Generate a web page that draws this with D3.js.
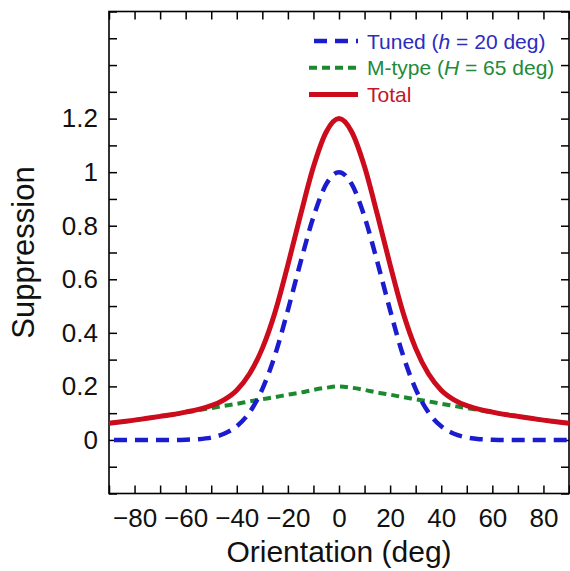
<!DOCTYPE html>
<html>
<head>
<meta charset="utf-8">
<script src="https://cdn.jsdelivr.net/npm/d3@7"></script>
<style>
  body { margin: 0; background: #fff; }
  svg { display: block; font-family: "Liberation Sans", Arial, Helvetica, sans-serif; }
</style>
</head>
<body>
<svg></svg>
<script>
// orientation in degrees
let angles = [-90, -85, -80, -75, -70, -65, -60, -55, -50, -45, -40, -35, -30, -25, -20, -15, -10, -5, 0,
              5, 10, 15, 20, 25, 30, 35, 40, 45, 50, 55, 60, 65, 70, 75, 80, 85, 90]

// tuned suppression (h = 20 deg)
let tuned = [0, 0, 0, 0, 0, 0, 0.001, 0.003, 0.009, 0.023, 0.051, 0.103, 0.190, 0.318, 0.485, 0.665, 0.833, 0.955, 1.0,
             0.955, 0.833, 0.665, 0.485, 0.318, 0.190, 0.103, 0.051, 0.023, 0.009, 0.003, 0.001, 0, 0, 0, 0, 0, 0]

// M-type suppression (H = 65 deg)
let mtype = [0.062, 0.068, 0.074, 0.081, 0.088, 0.095, 0.103, 0.111, 0.119, 0.127, 0.135, 0.144, 0.152, 0.160, 0.169, 0.177, 0.187, 0.195, 0.200,
             0.195, 0.187, 0.177, 0.169, 0.160, 0.152, 0.144, 0.135, 0.127, 0.119, 0.111, 0.103, 0.095, 0.088, 0.081, 0.074, 0.068, 0.062]

// total suppression
let total = [0.062, 0.068, 0.074, 0.081, 0.088, 0.095, 0.104, 0.114, 0.128, 0.150, 0.186, 0.247, 0.342, 0.478, 0.654, 0.842, 1.020, 1.150, 1.200,
             1.150, 1.020, 0.842, 0.654, 0.478, 0.342, 0.247, 0.186, 0.150, 0.128, 0.114, 0.104, 0.095, 0.088, 0.081, 0.074, 0.068, 0.062]

// ticks
let xTicks = [-90, -80, -70, -60, -50, -40, -30, -20, -10, 0, 10, 20, 30, 40, 50, 60, 70, 80, 90]
let xLabels = [-80, -60, -40, -20, 0, 20, 40, 60, 80]
let yTicks = [-0.2, -0.1, 0, 0.1, 0.2, 0.3, 0.4, 0.5, 0.6, 0.7, 0.8, 0.9, 1.0, 1.1, 1.2, 1.3, 1.4, 1.5, 1.6]
let yLabels = [0, 0.2, 0.4, 0.6, 0.8, 1, 1.2]

let legendNames = ['Tuned', 'M-type', 'Total']

let width = 570
let height = 571
let plotLeft = 109
let plotRight = 569
let plotTop = 11.5
let plotBottom = 493.5

let blue = '#1c1ccf'
let green = '#1b8a2f'
let red = '#cc0c1c'

let svg = d3.select('svg')
svg.attr('width', width).attr('height', height)

let xScale = d3.scaleLinear().domain([-90, 90]).range([plotLeft, plotRight])
let yScale = d3.scaleLinear().domain([-0.2, 1.6]).range([plotBottom, plotTop])

// plot frame
svg.append('rect')
    .attr('x', plotLeft)
    .attr('y', plotTop)
    .attr('width', plotRight - plotLeft)
    .attr('height', plotBottom - plotTop)
    .attr('fill', 'none')
    .attr('stroke', '#000')
    .attr('stroke-width', 1.6)

// axes, ticks point inward on all four sides
let fmtX = (d) => xLabels.includes(d) ? (d < 0 ? '\u2212' + Math.abs(d) : '' + d) : ''
let fmtY = (d) => yLabels.some((v) => Math.abs(v - d) < 1e-9) ? d3.format('~g')(d) : ''

svg.append('g')
    .attr('transform', 'translate(0,' + plotBottom + ')')
    .call(d3.axisBottom(xScale).tickValues(xTicks).tickSize(-8).tickPadding(15).tickFormat(fmtX))
svg.append('g')
    .attr('transform', 'translate(0,' + plotTop + ')')
    .call(d3.axisTop(xScale).tickValues(xTicks).tickSize(-8).tickFormat(''))
svg.append('g')
    .attr('transform', 'translate(' + plotLeft + ',0)')
    .call(d3.axisLeft(yScale).tickValues(yTicks).tickSize(-8).tickPadding(11).tickFormat(fmtY))
svg.append('g')
    .attr('transform', 'translate(' + plotRight + ',0)')
    .call(d3.axisRight(yScale).tickValues(yTicks).tickSize(-8).tickFormat(''))

svg.selectAll('.domain').remove()
svg.selectAll('.tick line').attr('stroke', '#000').attr('stroke-width', 1.5)
svg.selectAll('.tick text')
    .attr('fill', '#111')
    .style('font-size', '26px')
    .style('font-family', '"Liberation Sans", Arial, sans-serif')

// axis titles
svg.append('text')
    .attr('x', (plotLeft + plotRight) / 2)
    .attr('y', 562)
    .attr('text-anchor', 'middle')
    .style('font-size', '30px')
    .attr('fill', '#111')
    .text('Orientation (deg)')

svg.append('text')
    .attr('transform', 'translate(34,' + (plotTop + plotBottom) / 2 + ') rotate(-90)')
    .attr('text-anchor', 'middle')
    .style('font-size', '31px')
    .attr('fill', '#111')
    .text('Suppression')

// the curves
let line = (vals) => d3.line()
    .x((d, i) => xScale(angles[i]))
    .y((d) => yScale(d))
    .curve(d3.curveMonotoneX)(vals)

let plot = svg.append('g')

plot.append('path')
    .attr('d', line(mtype))
    .attr('fill', 'none')
    .attr('stroke', green)
    .attr('stroke-width', 4)
    .attr('stroke-dasharray', '8,5')

plot.append('path')
    .attr('d', line(total))
    .attr('fill', 'none')
    .attr('stroke', red)
    .attr('stroke-width', 5)

plot.append('path')
    .attr('d', line(tuned))
    .attr('fill', 'none')
    .attr('stroke', blue)
    .attr('stroke-width', 4.5)
    .attr('stroke-dasharray', '13,8')
    .attr('stroke-dashoffset', 16)

// legend
let legend = [
    { name: legendNames[0], param: 'h', val: 20, color: blue, text: '#2c2cc0', dash: '13,8', off: 16, w: 4.5 },
    { name: legendNames[1], param: 'H', val: 65, color: green, text: '#238a38', dash: '8,5', off: 0, w: 4 },
    { name: legendNames[2], param: null, val: null, color: red, text: '#c41628', dash: null, off: 0, w: 5 }
]

legend.forEach((item, i) => {
    let ly = 41 + i * 26.7
    svg.append('line')
        .attr('x1', 309).attr('x2', 358)
        .attr('y1', ly).attr('y2', ly)
        .attr('stroke', item.color)
        .attr('stroke-width', item.w)
        .attr('stroke-dasharray', item.dash)
        .attr('stroke-dashoffset', item.off)
    let t = svg.append('text')
        .attr('x', 367)
        .attr('y', ly + 7.5)
        .attr('fill', item.text)
        .style('font-size', '21px')
    if (item.param) {
        t.append('tspan').text(item.name + ' (')
        t.append('tspan').style('font-style', 'italic').text(item.param)
        t.append('tspan').text(' = ' + item.val + ' deg)')
    } else {
        t.text(item.name)
    }
})
</script>
</body>
</html>
